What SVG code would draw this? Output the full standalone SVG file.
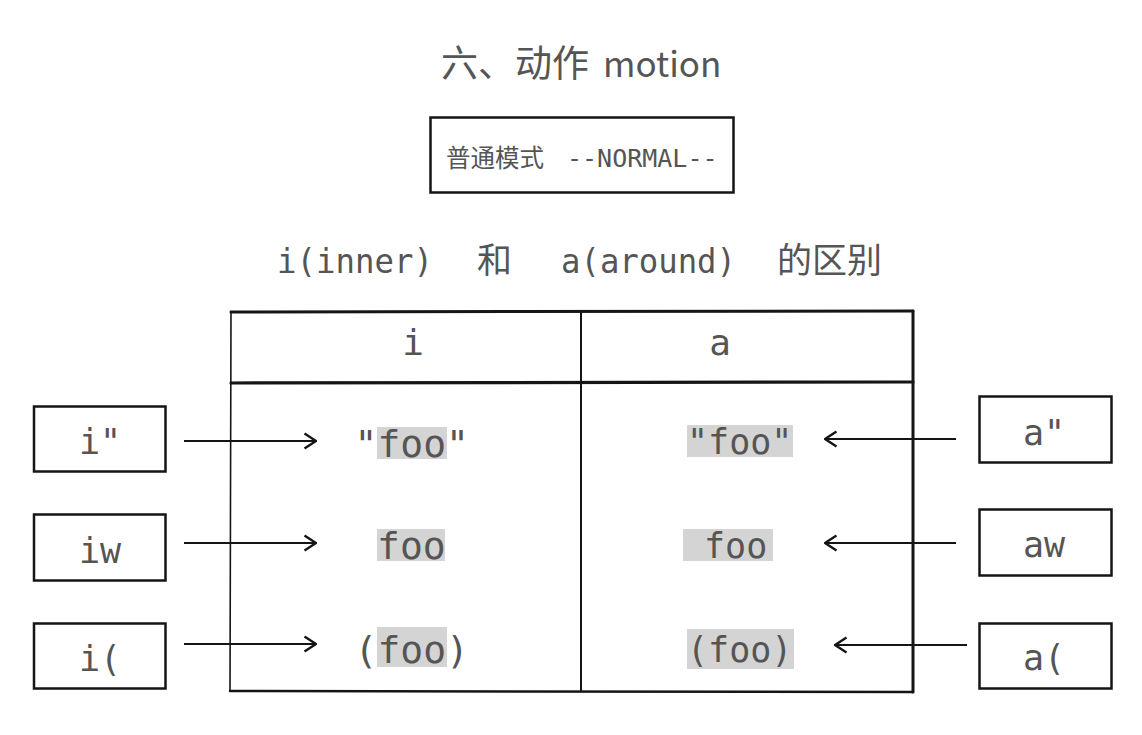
<svg xmlns="http://www.w3.org/2000/svg" width="1142" height="735" viewBox="0 0 1142 735">
  <style>
    .mono { font-family: "DejaVu Sans Mono", "Liberation Mono", "Noto Sans CJK SC", monospace; fill: #555; }
    .cjk { font-family: "Noto Sans CJK SC", "Noto Sans", sans-serif; fill: #555; }
    .box { fill: #fff; stroke: #151515; stroke-width: 2.5; }
    .line { stroke: #151515; fill: none; stroke-linecap: round; }
    .hl { fill: #d4d4d4; }
    .conn { stroke: #151515; stroke-width: 2.2; fill: none; }
  </style>
  <defs>
    <marker id="arr" viewBox="0 0 14 18" refX="13" refY="9" markerWidth="14" markerHeight="18" orient="auto" markerUnits="userSpaceOnUse">
      <path d="M1.5,1.5 L13,9 L1.5,16.5" fill="none" stroke="#151515" stroke-width="2.4" stroke-linejoin="miter"/>
    </marker>
  </defs>
  <rect x="0" y="0" width="1142" height="735" fill="#fff"/>

  <g id="title">
    <text class="cjk" x="441" y="77" font-size="37">六、动作<tspan x="603" font-size="35">motion</tspan></text>
  </g>

  <g id="mode-box">
    <rect class="box" x="430.5" y="117.5" width="303" height="75"/>
    <text class="cjk" x="446" y="167" font-size="24.5">普通模式</text>
    <text class="mono" x="567" y="167" font-size="25">--NORMAL--</text>
  </g>

  <g id="subtitle">
    <text class="mono" x="277" y="273" font-size="34.5" textLength="156" lengthAdjust="spacingAndGlyphs">i(inner)</text>
    <text class="cjk" x="477" y="273" font-size="35">和</text>
    <text class="mono" x="561" y="273" font-size="34.5" textLength="175" lengthAdjust="spacingAndGlyphs">a(around)</text>
    <text class="cjk" x="777" y="273" font-size="35">的区别</text>
  </g>

  <g id="table">
    <rect x="231" y="311" width="682" height="380" fill="#fff"/>
    <path class="line" d="M231,312 L913,311" stroke-width="3"/>
    <path class="line" d="M231,312 L230,691" stroke-width="1.6"/>
    <path class="line" d="M913,311 L913,692" stroke-width="3"/>
    <path class="line" d="M230,691 L913,692" stroke-width="2.5"/>
    <path class="line" d="M231,383 L913,382" stroke-width="3.2"/>
    <path class="line" d="M581,311 L581,691" stroke-width="2"/>
    <g id="header-i">
      <text class="mono" x="413" y="355" font-size="36" text-anchor="middle">i</text>
    </g>
    <g id="header-a">
      <text class="mono" x="720" y="355" font-size="36" text-anchor="middle">a</text>
    </g>
    <g id="cell-i-quote">
      <rect class="hl" x="377" y="427" width="70" height="32"/>
      <text class="mono" x="354.5" y="457" font-size="38">"foo"</text>
    </g>
    <g id="cell-i-word">
      <rect class="hl" x="377" y="529" width="68" height="32"/>
      <text class="mono" x="377" y="559" font-size="38">foo</text>
    </g>
    <g id="cell-i-paren">
      <rect class="hl" x="377" y="627" width="70" height="40"/>
      <text class="mono" x="354.5" y="663" font-size="38">(foo)</text>
    </g>
    <g id="cell-a-quote">
      <rect class="hl" x="687" y="425" width="106" height="32"/>
      <text class="mono" x="687" y="454" font-size="35">"foo"</text>
    </g>
    <g id="cell-a-word">
      <rect class="hl" x="683" y="529" width="90" height="32"/>
      <text class="mono" x="704" y="558" font-size="35">foo</text>
    </g>
    <g id="cell-a-paren">
      <rect class="hl" x="687" y="629" width="107" height="40"/>
      <text class="mono" x="687" y="662" font-size="35">(foo)</text>
    </g>
  </g>

  <g id="key-i-quote">
    <rect class="box" x="34" y="406.5" width="131.5" height="65"/>
    <text class="mono" x="79" y="454" font-size="35">i"</text>
  </g>
  <g id="key-iw">
    <rect class="box" x="34" y="514.5" width="131.5" height="66"/>
    <text class="mono" x="79" y="563" font-size="35">iw</text>
  </g>
  <g id="key-i-paren">
    <rect class="box" x="34" y="623.5" width="131.5" height="65"/>
    <text class="mono" x="79" y="671" font-size="35">i(</text>
  </g>

  <g id="key-a-quote">
    <rect class="box" x="979.5" y="396.5" width="132" height="66"/>
    <text class="mono" x="1023" y="445" font-size="35">a"</text>
  </g>
  <g id="key-aw">
    <rect class="box" x="979.5" y="509.5" width="132" height="66"/>
    <text class="mono" x="1023" y="557" font-size="35">aw</text>
  </g>
  <g id="key-a-paren">
    <rect class="box" x="979.5" y="623.5" width="132" height="65"/>
    <text class="mono" x="1023" y="670" font-size="35">a(</text>
  </g>

  <g id="connectors">
    <path class="conn" d="M184,441 L316,441" marker-end="url(#arr)"/>
    <path class="conn" d="M184,543 L316,543" marker-end="url(#arr)"/>
    <path class="conn" d="M184,644 L316,644" marker-end="url(#arr)"/>
    <path class="conn" d="M956,439 L825,439" marker-end="url(#arr)"/>
    <path class="conn" d="M956,543 L825,543" marker-end="url(#arr)"/>
    <path class="conn" d="M967,645 L835,645" marker-end="url(#arr)"/>
  </g>
</svg>
